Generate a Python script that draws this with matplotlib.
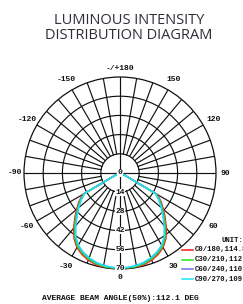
"""Luminous intensity distribution diagram (polar candela plot)."""

import matplotlib

matplotlib.use("Agg")
import matplotlib.pyplot as plt
import numpy as np

# ---- Data ----
ANGLES = [0, 5, 10, 15, 20, 25, 30, 35, 40, 45, 50, 55, 60, 65, 70, 75, 80, 85, 90]
C0_180 = [70.8, 70.6, 70.0, 69.0, 67.6, 65.6, 62.8, 58.4, 52.6, 46.6, 41.4, 36.6, 31.4, 4.0, 1.2, 0.6, 0.3, 0.1, 0.0]
C30_210 = [70.0, 69.8, 69.3, 68.3, 66.8, 64.7, 61.9, 57.5, 51.6, 45.6, 40.5, 35.8, 30.6, 3.8, 1.1, 0.5, 0.3, 0.1, 0.0]
C60_240 = [69.4, 69.2, 68.7, 67.6, 66.0, 63.8, 61.0, 56.6, 50.6, 44.6, 39.6, 35.0, 30.0, 3.6, 1.0, 0.5, 0.2, 0.1, 0.0]
C90_270 = [69.2, 69.0, 68.5, 67.4, 65.8, 63.6, 60.8, 56.4, 50.3, 44.2, 39.2, 34.7, 29.7, 3.5, 1.0, 0.5, 0.2, 0.1, 0.0]
SERIES = [C0_180, C30_210, C60_240, C90_270]
LABELS = ["C0/180,114.8", "C30/210,112.9", "C60/240,110.9", "C90/270,109.8"]
COLORS = ["#ff1a1a", "#1ee61e", "#6f6ff0", "#19e6f0"]
RINGS = [14, 28, 42, 56, 70]
ANGLE_TICKS = [0, 30, 60, 90, 120, 150, 180, -150, -120, -90, -60, -30]
ANGLE_TEXT = ["0", "30", "60", "90", "120", "150", "-/+180", "-150", "-120", "-90", "-60", "-30"]
TITLE = "LUMINOUS INTENSITY\nDISTRIBUTION DIAGRAM"
FOOTER = "AVERAGE BEAM ANGLE(50%):112.1 DEG"

W, H = 243, 304
MONO = dict(family="Liberation Mono", weight="bold")
INK = "#111111"


def fx(x):
    return x / W


def fy(y):
    return 1 - y / H


fig = plt.figure(figsize=(W / 100, H / 100), dpi=100)

# polar axes: centre (120,173) px, radius 96 px
cx, cy, rad = 120, 173, 96
ax = fig.add_axes([fx(cx - rad), fy(cy + rad), 2 * rad / W, 2 * rad / H], projection="polar")
ax.set_theta_zero_location("S")
ax.set_theta_direction(1)
ax.set_ylim(0, 70)
ax.grid(False)
ax.set_xticks([])
ax.set_yticks([])
ax.spines["polar"].set_linewidth(0.9)
ax.spines["polar"].set_color(INK)

grid_kw = dict(color=INK, lw=0.85, zorder=1)
th = np.linspace(0, 2 * np.pi, 361)
for r in RINGS[:-1]:
    ax.plot(th, np.full_like(th, r), **grid_kw)
for a in range(0, 360, 10):
    r0 = 0 if a % 90 == 0 else RINGS[0]
    ax.plot([np.radians(a)] * 2, [r0, 70], **grid_kw)

# curves, mirrored on both sides of nadir
ang = np.radians(ANGLES)
for vals, c in zip(SERIES, COLORS):
    v = np.array(vals)
    t = np.concatenate([-ang[::-1], ang[1:]])
    r = np.concatenate([v[::-1], v[1:]])
    ax.plot(t, r, color=c, lw=1.1, zorder=3)

# radial value labels along nadir
for r in [0] + RINGS:
    ax.text(0, r, str(r), ha="center", va="center", fontsize=5.8, color=INK,
            zorder=4, bbox=dict(facecolor="white", edgecolor="none", pad=0.1), **MONO)

# angle labels
for a, s in zip(ANGLE_TICKS, ANGLE_TEXT):
    rr = 76.5 if abs(a) in (0, 90, 180) else 78.5
    ax.text(np.radians(a), rr, s, ha="center", va="center", fontsize=5.8,
            color=INK, clip_on=False, **MONO)

# title
fig.text(fx(129), fy(28), TITLE, ha="center", va="center", fontsize=10.5,
         family="Open Sans", weight="medium", color="#2e2e38", linespacing=1.05)

# legend
fig.text(fx(222), fy(241), "UNIT:cd", ha="left", va="center", fontsize=5.2, color=INK, **MONO)
for i, (lab, c) in enumerate(zip(LABELS, COLORS)):
    yy = [250, 260, 269, 279][i]
    fig.add_artist(plt.Line2D([fx(182), fx(193)], [fy(yy), fy(yy)], color=c, lw=1.1))
    fig.text(fx(195), fy(yy), lab, ha="left", va="center", fontsize=5.2, color=INK, **MONO)

fig.text(fx(120), fy(298), FOOTER, ha="center", va="center", fontsize=5.8, color=INK, **MONO)

fig.savefig("out.png", dpi=100)
